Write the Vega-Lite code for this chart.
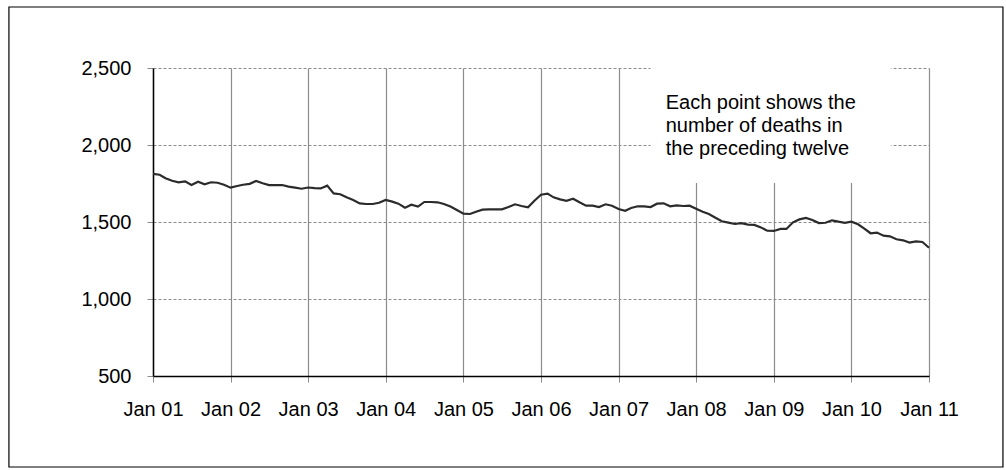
{
  "$schema": "https://vega.github.io/schema/vega-lite/v6.json",
  "width": 776,
  "height": 308,
  "autosize": {"type": "none"},
  "padding": {"left": 153, "top": 68, "right": 77, "bottom": 94},
  "background": "white",
  "config": {
    "view": {"stroke": null},
    "font": "Liberation Sans",
    "axis": {
      "labelFont": "Liberation Sans",
      "labelFontSize": 20,
      "labelColor": "black",
      "labelPadding": 16,
      "labelFlush": false,
      "labelOverlap": false,
      "domainColor": "black",
      "domainWidth": 1.5,
      "tickColor": "#8c8c8c",
      "tickSize": 6,
      "grid": true,
      "gridColor": "#8c8c8c",
      "title": null
    },
    "axisX": {"gridWidth": 1.2, "labelPadding": 17, "labelExpr": "utcFormat(datum.value, '%b %y')"},
    "axisY": {"gridDash": [3, 2], "gridWidth": 1, "labelExpr": "format(datum.value, ',')"}
  },
  "datasets": {
    "deaths": [
      {"date": "2001-01-01", "deaths": 1812}, {"date": "2001-02-01", "deaths": 1807}, {"date": "2001-03-01", "deaths": 1784}, {"date": "2001-04-01", "deaths": 1768},
      {"date": "2001-05-01", "deaths": 1758}, {"date": "2001-06-01", "deaths": 1764}, {"date": "2001-07-01", "deaths": 1740}, {"date": "2001-08-01", "deaths": 1762},
      {"date": "2001-09-01", "deaths": 1745}, {"date": "2001-10-01", "deaths": 1758}, {"date": "2001-11-01", "deaths": 1755}, {"date": "2001-12-01", "deaths": 1742},
      {"date": "2002-01-01", "deaths": 1723}, {"date": "2002-02-01", "deaths": 1734}, {"date": "2002-03-01", "deaths": 1742}, {"date": "2002-04-01", "deaths": 1748},
      {"date": "2002-05-01", "deaths": 1766}, {"date": "2002-06-01", "deaths": 1752}, {"date": "2002-07-01", "deaths": 1740}, {"date": "2002-08-01", "deaths": 1740},
      {"date": "2002-09-01", "deaths": 1740}, {"date": "2002-10-01", "deaths": 1730}, {"date": "2002-11-01", "deaths": 1723}, {"date": "2002-12-01", "deaths": 1716},
      {"date": "2003-01-01", "deaths": 1724}, {"date": "2003-02-01", "deaths": 1720}, {"date": "2003-03-01", "deaths": 1718}, {"date": "2003-04-01", "deaths": 1736},
      {"date": "2003-05-01", "deaths": 1686}, {"date": "2003-06-01", "deaths": 1680}, {"date": "2003-07-01", "deaths": 1660}, {"date": "2003-08-01", "deaths": 1643},
      {"date": "2003-09-01", "deaths": 1621}, {"date": "2003-10-01", "deaths": 1617}, {"date": "2003-11-01", "deaths": 1617}, {"date": "2003-12-01", "deaths": 1625},
      {"date": "2004-01-01", "deaths": 1643}, {"date": "2004-02-01", "deaths": 1632}, {"date": "2004-03-01", "deaths": 1619}, {"date": "2004-04-01", "deaths": 1593},
      {"date": "2004-05-01", "deaths": 1612}, {"date": "2004-06-01", "deaths": 1600}, {"date": "2004-07-01", "deaths": 1630}, {"date": "2004-08-01", "deaths": 1630},
      {"date": "2004-09-01", "deaths": 1628}, {"date": "2004-10-01", "deaths": 1617}, {"date": "2004-11-01", "deaths": 1600}, {"date": "2004-12-01", "deaths": 1578},
      {"date": "2005-01-01", "deaths": 1554}, {"date": "2005-02-01", "deaths": 1552}, {"date": "2005-03-01", "deaths": 1567}, {"date": "2005-04-01", "deaths": 1580},
      {"date": "2005-05-01", "deaths": 1582}, {"date": "2005-06-01", "deaths": 1582}, {"date": "2005-07-01", "deaths": 1582}, {"date": "2005-08-01", "deaths": 1597},
      {"date": "2005-09-01", "deaths": 1615}, {"date": "2005-10-01", "deaths": 1604}, {"date": "2005-11-01", "deaths": 1595}, {"date": "2005-12-01", "deaths": 1638},
      {"date": "2006-01-01", "deaths": 1677}, {"date": "2006-02-01", "deaths": 1684}, {"date": "2006-03-01", "deaths": 1660}, {"date": "2006-04-01", "deaths": 1647},
      {"date": "2006-05-01", "deaths": 1638}, {"date": "2006-06-01", "deaths": 1651}, {"date": "2006-07-01", "deaths": 1628}, {"date": "2006-08-01", "deaths": 1606},
      {"date": "2006-09-01", "deaths": 1606}, {"date": "2006-10-01", "deaths": 1597}, {"date": "2006-11-01", "deaths": 1615}, {"date": "2006-12-01", "deaths": 1606},
      {"date": "2007-01-01", "deaths": 1584}, {"date": "2007-02-01", "deaths": 1573}, {"date": "2007-03-01", "deaths": 1591}, {"date": "2007-04-01", "deaths": 1602},
      {"date": "2007-05-01", "deaths": 1602}, {"date": "2007-06-01", "deaths": 1597}, {"date": "2007-07-01", "deaths": 1619}, {"date": "2007-08-01", "deaths": 1621},
      {"date": "2007-09-01", "deaths": 1602}, {"date": "2007-10-01", "deaths": 1608}, {"date": "2007-11-01", "deaths": 1604}, {"date": "2007-12-01", "deaths": 1606},
      {"date": "2008-01-01", "deaths": 1586}, {"date": "2008-02-01", "deaths": 1567}, {"date": "2008-03-01", "deaths": 1552}, {"date": "2008-04-01", "deaths": 1528},
      {"date": "2008-05-01", "deaths": 1505}, {"date": "2008-06-01", "deaths": 1496}, {"date": "2008-07-01", "deaths": 1487}, {"date": "2008-08-01", "deaths": 1493},
      {"date": "2008-09-01", "deaths": 1483}, {"date": "2008-10-01", "deaths": 1481}, {"date": "2008-11-01", "deaths": 1465}, {"date": "2008-12-01", "deaths": 1443},
      {"date": "2009-01-01", "deaths": 1442}, {"date": "2009-02-01", "deaths": 1455}, {"date": "2009-03-01", "deaths": 1455}, {"date": "2009-04-01", "deaths": 1498},
      {"date": "2009-05-01", "deaths": 1517}, {"date": "2009-06-01", "deaths": 1526}, {"date": "2009-07-01", "deaths": 1513}, {"date": "2009-08-01", "deaths": 1493},
      {"date": "2009-09-01", "deaths": 1495}, {"date": "2009-10-01", "deaths": 1511}, {"date": "2009-11-01", "deaths": 1502}, {"date": "2009-12-01", "deaths": 1495},
      {"date": "2010-01-01", "deaths": 1502}, {"date": "2010-02-01", "deaths": 1485}, {"date": "2010-03-01", "deaths": 1459}, {"date": "2010-04-01", "deaths": 1427},
      {"date": "2010-05-01", "deaths": 1431}, {"date": "2010-06-01", "deaths": 1411}, {"date": "2010-07-01", "deaths": 1407}, {"date": "2010-08-01", "deaths": 1388},
      {"date": "2010-09-01", "deaths": 1381}, {"date": "2010-10-01", "deaths": 1366}, {"date": "2010-11-01", "deaths": 1374}, {"date": "2010-12-01", "deaths": 1370},
      {"date": "2011-01-01", "deaths": 1333}
    ]
  },
  "layer": [
    {
      "data": {"name": "deaths"},
      "mark": {"type": "line", "stroke": "#2b2b2b", "strokeWidth": 2.2},
      "encoding": {
        "x": {
          "field": "date",
          "type": "temporal",
          "scale": {"type": "utc", "domain": [978307200000, 1293840000000]},
          "axis": {
            "title": null,
            "values": [978307200000, 1009843200000, 1041379200000, 1072915200000, 1104537600000, 1136073600000, 1167609600000, 1199145600000, 1230768000000, 1262304000000, 1293840000000]
          }
        },
        "y": {
          "field": "deaths",
          "type": "quantitative",
          "scale": {"domain": [500, 2500], "nice": false, "zero": false},
          "axis": {"title": null, "values": [500, 1000, 1500, 2000, 2500]}
        }
      }
    },
    {
      "data": {"values": [{}]},
      "mark": {"type": "rect", "fillOpacity": 0, "stroke": "black", "strokeWidth": 1.2},
      "encoding": {
        "x": {
          "datum": 919728000000,
          "type": "temporal",
          "scale": {"type": "utc", "domain": [978307200000, 1293840000000]},
          "axis": {
            "title": null,
            "values": [978307200000, 1009843200000, 1041379200000, 1072915200000, 1104537600000, 1136073600000, 1167609600000, 1199145600000, 1230768000000, 1262304000000, 1293840000000]
          }
        },
        "x2": {"datum": 1323907200000},
        "y": {
          "datum": -91,
          "type": "quantitative",
          "scale": {"domain": [500, 2500], "nice": false, "zero": false},
          "axis": {"title": null, "values": [500, 1000, 1500, 2000, 2500]}
        },
        "y2": {"datum": 2896}
      }
    },
    {
      "data": {"values": [{}]},
      "mark": {"type": "rect", "fill": "white", "strokeWidth": 0},
      "encoding": {
        "x": {
          "datum": 1180656000000,
          "type": "temporal",
          "scale": {"type": "utc", "domain": [978307200000, 1293840000000]},
          "axis": {
            "title": null,
            "values": [978307200000, 1009843200000, 1041379200000, 1072915200000, 1104537600000, 1136073600000, 1167609600000, 1199145600000, 1230768000000, 1262304000000, 1293840000000]
          }
        },
        "x2": {"datum": 1278288000000},
        "y": {
          "datum": 1753,
          "type": "quantitative",
          "scale": {"domain": [500, 2500], "nice": false, "zero": false},
          "axis": {"title": null, "values": [500, 1000, 1500, 2000, 2500]}
        },
        "y2": {"datum": 2560}
      }
    },
    {
      "data": {"values": [{}]},
      "mark": {"type": "text", "align": "left", "baseline": "middle", "fontSize": 20, "lineHeight": 23, "color": "black", "font": "Liberation Sans"},
      "encoding": {
        "x": {
          "datum": 1186790400000,
          "type": "temporal",
          "scale": {"type": "utc", "domain": [978307200000, 1293840000000]},
          "axis": {
            "title": null,
            "values": [978307200000, 1009843200000, 1041379200000, 1072915200000, 1104537600000, 1136073600000, 1167609600000, 1199145600000, 1230768000000, 1262304000000, 1293840000000]
          }
        },
        "y": {
          "datum": 2273,
          "type": "quantitative",
          "scale": {"domain": [500, 2500], "nice": false, "zero": false},
          "axis": {"title": null, "values": [500, 1000, 1500, 2000, 2500]}
        },
        "text": {"value": ["Each point shows the", "number of deaths in", "the preceding twelve"]}
      }
    }
  ]
}
